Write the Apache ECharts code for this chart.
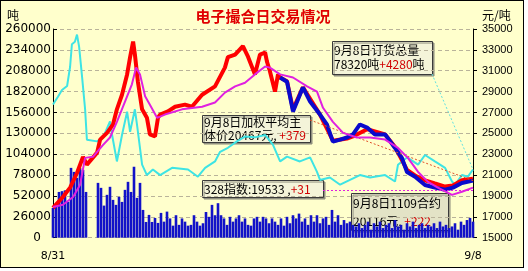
<!DOCTYPE html>
<html><head><meta charset="utf-8">
<script src="https://cdn.jsdelivr.net/npm/echarts@6/dist/echarts.min.js"></script>
<style>
html,body{margin:0;padding:0;background:#fff;}
#bg{position:absolute;left:0;top:0;width:524px;height:268px;box-sizing:border-box;border:1px solid #000;background:#FFFFCC;}
#c{position:absolute;left:0;top:0;width:528px;height:271px;}
</style></head><body><div id="bg"></div><div id="c"></div>
<script>
// ---- data (x = trading-day index 0..140, 8/31 -> 9/8) ----
const xLabels = ['8/31', '9/8'];
const lastIndex = 140;
const leftTicks = [0, 260000, 26000];
const rightTicks = [15000, 35000, 2000];

// daily traded volume (tons), blue bars
const volume = [
 37000,40000,57000,58000,59000,44600,87000,82000,74600,87000,84600,57000,0,0,0,
 68300,62100,40000,53400,63400,47100,40900,50900,44600,59600,69600,57000,88400,49600,68300,
 34600,19600,28400,19600,24600,18400,30900,20000,32500,24000,15000,28000,16000,24000,20000,
 15000,16000,28000,20000,15000,18000,32000,26000,40900,28000,43000,28000,24000,16000,26000,
 20000,24000,28000,20000,24000,16000,15000,24000,26000,20000,26000,
 24000,18000,24000,20000,16000,24000,15000,26000,18000,28000,24000,30000,20000,24000,16000,
 28000,20000,28000,18000,24000,26000,16000,34600,20000,28000,16000,22000,18000,20000,16000,
 14000,18000,12000,16000,20000,10000,18000,14000,20000,12000,16000,18000,12000,22000,14000,
 16000,10000,18000,14000,20000,12000,16000,18000,12000,16000,14000,18000,12000,20000,14000,
 16000,12000,14000,18000,10000,20000,16000,22000,24600,20000
];
// order total (tons), cyan line  [dayIndex, value]
const orderTotal = [
 [0,166000],[1.7,176000],[3,184000],[4.7,189000],[5.7,213000],[6.3,241000],[7.3,244000],[8,253000],
 [8.7,238000],[9.7,200000],[10.7,160000],[11.3,122000],[14.7,120000],[16.7,125000],[19,145000],
 [19.7,128000],[21.3,95000],[23,128000],[24.7,157000],[25.7,132000],[27.3,160000],[28,141000],
 [29.7,91000],[31.3,78000],[33.3,85000],[35.7,78000],[39.7,87000],[45,85000],[48.3,76000],
 [50.7,87000],[54,95000],[55.7,107000],[58.3,112000],[61.3,120000],[64,126000],[67.3,125000],
 [70.7,128000],[73.3,116000],[75.7,95000],[78,101000],[82.3,95000],[85.7,100000],[88,82000],
 [89,72000],[92.3,75000],[95.7,66000],[99,72000],[102.3,78000],[105.7,75000],[110.7,78000],
 [114,70000],[115,91000],[118,100000],[121.7,91000],[124,103000],[127.3,95000],[130.7,87000],
 [133,70000],[134,66000],[136.3,78000],[138.3,76000],[140,85000]
];
// weighted average price (yuan/ton), red part
const priceRed = [
 [0,17850],[3.3,18900],[5.7,19800],[8,21200],[10,22750],[11.3,22000],[14.7,23150],[15.7,24400],
 [18,25050],[20,25850],[21.3,27300],[23,28700],[24.7,30650],[25.7,32300],[26.7,33800],[27.3,32550],
 [28.3,29950],[29.7,27300],[31.3,26500],[32.3,24900],[34,24700],[35,26500],[35.7,26800],[38.3,27100],
 [40.7,27550],[44,27750],[46.3,27550],[49.7,28700],[54,29500],[57.3,31300],[58.3,32300],[60.7,32550],
 [63.3,33350],[65,32350],[67.3,30650],[69,32550],[70.7,32750],[71.3,31900],[72.3,30950],[74,29000],
 [75,30650],[75.7,30350],[78,30000],[80,27300],[83.3,29400],[89,26800],[93.3,24300],[98,24500],
 [100,24700],[104.7,25400],[110.7,24900],[114,23700],[118,21500],[121,20900],[124,20500],
 [127.3,20200],[130.7,19900],[133.3,20000],[136.3,20500],[140,20650]
];
// weighted average price (yuan/ton), blue part
const priceBlue = [
 [75.7,30350],[78,29950],[80,27100],[83.3,29400],[85.7,28050],[89,26800],[91.3,25850],[93.3,24200],
 [95.7,24400],[98,24600],[100,24900],[102.3,25850],[104.7,25550],[107.3,24900],[110.7,24900],
 [114,23600],[116.3,22650],[118,21300],[120.7,20850],[124,20050],[127.3,19800],[130.7,19600],
 [133.3,19800],[136.3,20250],[140,20467]
];
// moving average price (yuan/ton), magenta
const avgPrice = [
 [0,17950],[3.3,18150],[6.7,18900],[9,20050],[10.7,22650],[13.3,22750],[16.7,23900],[19,24600],
 [21.3,26100],[24,28050],[26.3,29700],[27.7,31300],[29,30650],[30.7,28550],[32.3,27750],[34.7,26500],
 [35.7,26600],[37.3,26800],[43,27300],[49.7,27550],[54,27950],[57.3,28900],[60.7,29500],[64,29850],
 [67.3,30650],[70.7,31400],[72.3,31300],[75.7,30650],[80,30350],[84.7,29500],[88,29000],[90,27450],
 [93.3,26100],[96.7,25050],[101.3,24600],[105.7,24600],[110.7,24400],[115,23600],[118.3,22650],
 [121.7,21300],[125,20350],[128.3,19800],[133,19100],[136.3,19400],[140,19800]
];
const index328 = 19533;
const index328Start = 90;
const weightedPrice = 20467;

const titleText = '电子撮合日交易情况';
const leftUnit = '吨';
const rightUnit = '元/吨';
const box1 = ['9月8日订货总量', '78320吨', '+4280', '吨'];
const box2 = ['9月8日加权平均主', '体价20467元, ', '+379'];
const box3 = ['328指数:19533 ,', '+31'];
const box4 = ['9月8日1109合约', '20116元, ', '+222'];

// ---- chart ----
const chart = echarts.init(document.getElementById('c'), null, {renderer: 'canvas'});
const CJK = '"Noto Sans CJK SC", sans-serif';
function richLH(lh) {
  return {
    b: {fill: '#000', color: '#000', fontSize: 12, fontFamily: CJK, lineHeight: lh},
    r: {fill: '#D00000', color: '#D00000', fontSize: 12, fontFamily: CJK, lineHeight: lh}
  };
}
function box(x, y, w, h, text, rich, alpha, ty) {
  return {
    type: 'group', z: 100,
    children: [
      {type: 'rect', shape: {x: x + 0.5, y: y + 0.5, width: w, height: h},
       style: {fill: 'rgba(255,255,226,' + alpha + ')', stroke: '#3a3a3a', lineWidth: 1,
               shadowOffsetX: 1.5, shadowOffsetY: 1.5, shadowBlur: 0, shadowColor: '#8a8a7a'}},
      {type: 'text', x: x + 2, y: y + ty,
       style: {text: text, rich: rich, textAlign: 'left', textVerticalAlign: 'top',
               font: '12px ' + CJK, fill: '#000'}}
    ]
  };
}
const dotted = {type: [2, 2], width: 1};

const option = {
  animation: false,
  backgroundColor: 'transparent',
  grid: {left: 53, top: 29, width: 420, height: 208.7},
  xAxis: {
    type: 'value', min: 0, max: lastIndex, interval: lastIndex,
    axisLine: {show: false}, axisTick: {show: false}, splitLine: {show: false},
    axisLabel: {
      margin: 13, color: '#000', fontFamily: 'DejaVu Sans', fontSize: 11,
      formatter: v => v === 0 ? xLabels[0] : (v === lastIndex ? xLabels[1] : '')
    }
  },
  yAxis: [
    {
      type: 'value', position: 'left', min: leftTicks[0], max: leftTicks[1], interval: leftTicks[2],
      axisLine: {show: true, lineStyle: {color: '#000', width: 1}},
      axisTick: {show: true, inside: true, length: 4, lineStyle: {color: '#000'}},
      splitLine: {show: true, lineStyle: {color: '#B9B39A', type: [4, 3], width: 1}},
      axisLabel: {
        margin: 2, color: '#000', fontFamily: 'DejaVu Sans', fontSize: 12,
        formatter: v => v === 0 ? '0{p|}' : String(v),
        rich: {p: {width: 10}}
      }
    },
    {
      type: 'value', position: 'right', min: rightTicks[0], max: rightTicks[1], interval: rightTicks[2],
      axisLine: {show: true, lineStyle: {color: '#000', width: 1}},
      axisTick: {show: true, inside: false, length: 4, lineStyle: {color: '#000'}},
      splitLine: {show: false},
      axisLabel: {margin: 9, color: '#000', fontFamily: 'Liberation Sans', fontSize: 11,
                  formatter: v => String(v)}
    }
  ],
  series: [
    {
      type: 'bar', yAxisIndex: 0, barWidth: 2.6, z: 1,
      itemStyle: {color: '#1212C8'},
      data: volume.map((v, i) => [i, v])
    },
    {
      type: 'line', yAxisIndex: 0, symbol: 'none', z: 2,
      lineStyle: {color: '#3EE4E4', width: 2},
      data: orderTotal,
      markLine: {
        silent: true, symbol: ['none', 'none'], label: {show: false},
        lineStyle: Object.assign({color: '#5FE0E0'}, dotted),
        data: [[{x: 432, y: 74}, {coord: orderTotal[orderTotal.length - 1]}]]
      }
    },
    {
      type: 'line', yAxisIndex: 1, symbol: 'none', z: 3,
      lineStyle: {color: '#FF0000', width: 4},
      data: priceRed
    },
    {
      type: 'line', yAxisIndex: 1, symbol: 'none', z: 4,
      lineStyle: {color: '#0A0ACC', width: 4},
      data: priceBlue,
      markLine: {
        silent: true, symbol: ['none', 'none'], label: {show: false},
        lineStyle: Object.assign({color: '#E0502A'}, dotted),
        data: [[{x: 310, y: 120}, {coord: [lastIndex, weightedPrice]}]]
      }
    },
    {
      type: 'line', yAxisIndex: 1, symbol: 'none', z: 5,
      lineStyle: {color: '#E020E0', width: 2},
      data: avgPrice,
      markLine: {
        silent: true, symbol: ['none', 'none'], label: {show: false},
        lineStyle: Object.assign({color: '#E020E0'}, dotted),
        data: [[{coord: [index328Start, index328]}, {coord: [lastIndex, index328]}]]
      }
    }
  ],
  graphic: {
    elements: [
      {type: 'text', x: 263, y: 16, z: 100,
       style: {text: titleText, font: 'bold 15px ' + CJK, fill: '#E00000', textAlign: 'center', textVerticalAlign: 'middle'}},
      {type: 'text', x: 7, y: 15, z: 100,
       style: {text: leftUnit, font: '12px ' + CJK, fill: '#000', textAlign: 'left', textVerticalAlign: 'middle'}},
      {type: 'text', x: 482, y: 15, z: 100,
       style: {text: rightUnit, font: '12px ' + CJK, fill: '#000', textAlign: 'left', textVerticalAlign: 'middle'}},
      box(332, 41, 100, 33, '{b|' + box1[0] + '}\n{b|' + box1[1] + '}{r|' + box1[2] + '}{b|' + box1[3] + '}', richLH(14), 0.9, 2),
      box(202, 115, 108, 27, '{b|' + box2[0] + '}\n{b|' + box2[1] + '}{r|' + box2[2] + '}', richLH(13), 0.9, 1),
      box(202, 180, 121, 17, '{b|' + box3[0] + '}{r|' + box3[1] + '}', richLH(14), 0.9, 2),
      box(351, 193, 97, 37, '{b|' + box4[0] + '}\n{b|' + box4[1] + '}{r|' + box4[2] + '}', richLH(18), 0.6, 1)
    ]
  }
};
chart.setOption(option);
</script></body></html>
